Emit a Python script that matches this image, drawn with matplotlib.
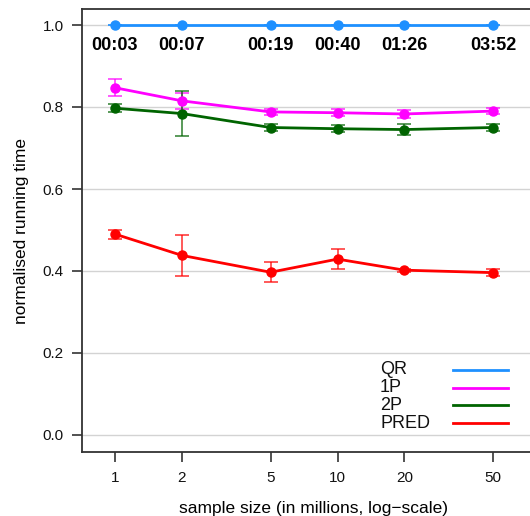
import matplotlib
matplotlib.use("Agg")
import matplotlib.pyplot as plt
from matplotlib.lines import Line2D

plt.rcParams['font.family'] = ['Liberation Sans', 'DejaVu Sans']

sizes = [1, 2, 5, 10, 20, 50]
time_labels = ["00:03", "00:07", "00:19", "00:40", "01:26", "03:52"]
series_names = ["QR", "1P", "2P", "PRED"]
colors = ["#1E90FF", "#FF00FF", "#006400", "#FF0000"]

qr = [1.0, 1.0, 1.0, 1.0, 1.0, 1.0]
qr_err = [0, 0, 0, 0, 0, 0]
p1 = [0.847, 0.815, 0.788, 0.786, 0.783, 0.790]
p1_err = [0.021, 0.020, 0.007, 0.008, 0.010, 0.007]
p2 = [0.797, 0.784, 0.750, 0.747, 0.745, 0.750]
p2_err = [0.010, 0.054, 0.009, 0.008, 0.013, 0.009]
pred = [0.490, 0.438, 0.397, 0.429, 0.402, 0.396]
pred_err = [0.011, 0.050, 0.025, 0.024, 0.004, 0.008]

values = [qr, p1, p2, pred]
errors = [qr_err, p1_err, p2_err, pred_err]

W, H = 530, 516
fig = plt.figure(figsize=(W / 100, H / 100), dpi=100)
left_px, right_px, top_px, bot_px = 82, 545, 9, 452
ax = fig.add_axes([left_px / W, 1 - bot_px / H, (right_px - left_px) / W, (bot_px - top_px) / H])

ax.set_xscale('log')
px_per_dec = 222.5
x1_px = 115
ax.set_xlim(10 ** ((left_px - x1_px) / px_per_dec), 10 ** ((right_px - x1_px) / px_per_dec))
ax.set_ylim((435 - bot_px) / 410, (435 - top_px) / 410)

yt = [0.0, 0.2, 0.4, 0.6, 0.8, 1.0]
ax.set_yticks(yt)
ax.set_yticklabels([f"{v:.1f}" for v in yt])
ax.set_xticks(sizes)
ax.set_xticklabels([str(s) for s in sizes])
ax.minorticks_off()
for v in yt:
    ax.axhline(v, color='#d3d3d3', lw=1.0, zorder=0)

for name, vals, errs, c in zip(series_names, values, errors, colors):
    ax.errorbar(sizes, vals, yerr=errs, fmt='none', ecolor=c, elinewidth=1.3,
                capsize=5, capthick=1.3, alpha=0.7, zorder=2)
    ax.plot(sizes, vals, '-o', color=c, lw=2, ms=6.5, zorder=3, label=name)

for x, lab in zip(sizes, time_labels):
    ax.text(x, 0.95, lab, ha='center', va='center', fontsize=13, fontweight='bold')

spine_c = '#333333'
ax.spines['right'].set_visible(False)
for s in ['left', 'bottom', 'top']:
    ax.spines[s].set_color(spine_c)
    ax.spines[s].set_linewidth(1.3)
ax.tick_params(axis='both', direction='out', length=7, width=1.2, color=spine_c,
               labelsize=11, labelcolor='#111111', pad=6)
ax.tick_params(axis='x', pad=7)

ax.set_xlabel("sample size (in millions, log\u2212scale)", fontsize=12.5, labelpad=11)
ax.set_ylabel("normalised running time", fontsize=12.5, labelpad=10)

# legend (no frame): labels left-aligned, line samples on the right
row_y = [370, 388, 405, 423]
for name, c, yp in zip(series_names, colors, row_y):
    fy = 1 - yp / H
    fig.text(380 / W, fy, name, ha='left', va='center', fontsize=13, color='#111111')
    fig.add_artist(Line2D([453 / W, 508 / W], [fy, fy], color=c, lw=2,
                          transform=fig.transFigure))

fig.savefig("out.png", dpi=100)
